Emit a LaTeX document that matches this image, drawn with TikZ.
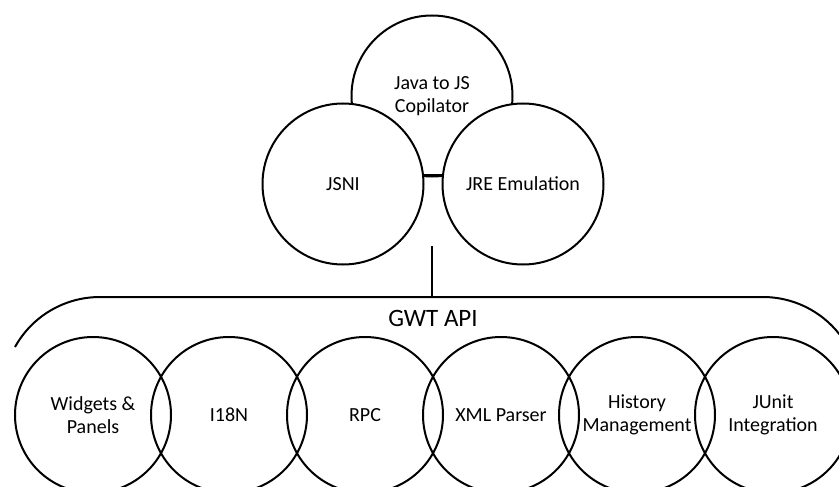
\documentclass[tikz,border=0pt]{standalone}
\usepackage{fontspec}
\setmainfont{Carlito}
\usetikzlibrary{positioning}
\tikzset{
  partcircle/.style={draw, circle, line width=2pt, minimum size=161pt, inner sep=0pt,
    align=center, font=\fontsize{20}{23.5}\selectfont, fill=white},
  apicircle/.style={draw, circle, line width=2pt, minimum size=156pt, inner sep=0pt,
    align=center, font=\fontsize{20}{23.5}\selectfont},
  partline/.style={line width=2pt}
}

\begin{document}
\begin{tikzpicture}[x=1pt, y=-1pt]
    \useasboundingbox (0,0) rectangle (839,487);
    % compiler core
    \node[partcircle] (compiler) at (432,96) {Java to JS\\Copilator};
    \node[partcircle] (jsni) at (343,184) {JSNI};
    \node[partcircle] (jre) at (523,184) {JRE Emulation};
    \draw[partline] (jsni.6) -- (jre.174);
    % library shell
    \coordinate (stem) at (432,246);
    \coordinate (apitop) at (432,297);
    \coordinate (shellleft) at (15,347);
    \draw[partline] (shellleft) arc[start angle=151, end angle=90, radius=97pt]
      -- (763,297) arc[start angle=90, end angle=38, radius=97pt];
    \draw[partline] (stem) -- (apitop);
    \node[font=\fontsize{25}{30}\selectfont] (api) at (433,318) {GWT API};
    % library modules
    \node[apicircle] (widgets) at (93,415) {Widgets \&\\Panels};
    \node[apicircle, right=-22pt of widgets] (i18n) {I18N};
    \node[apicircle, right=-22pt of i18n] (rpc) {RPC};
    \node[apicircle, right=-22pt of rpc] (xml) {XML Parser};
    \node[apicircle, right=-22pt of xml] (history) {History\\Management};
    \node[apicircle, right=-22pt of history] (junit) {JUnit\\Integration};
  \end{tikzpicture}
\end{document}
